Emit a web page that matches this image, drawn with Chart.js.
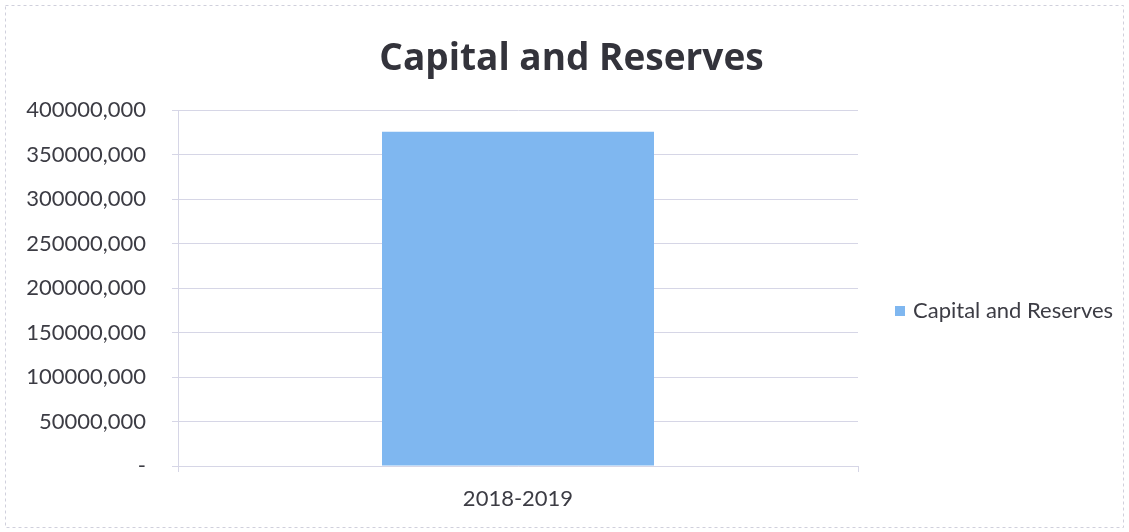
<!DOCTYPE html>
<html>
<head>
<meta charset="utf-8">
<title>Capital and Reserves</title>
<script src="https://cdn.jsdelivr.net/npm/chart.js@4.4.1/dist/chart.umd.min.js"></script>
<style>
  html, body { margin: 0; padding: 0; background: #fff; }
  #wrap { width: 1129px; height: 532px; }
</style>
</head>
<body>
<div id="wrap"><canvas id="barchart" width="1129" height="532"></canvas></div>
<script>
var categories = ['2018-2019']
var seriesLabel = 'Capital and Reserves'
var capitalValues = [376000000]
var yMax = 400000000
var yStep = 50000000

var barColor = '#7fb7f0'
var gridColor = '#d6d6e6'
var textColor = '#3c3c44'

function tickLabel(v) {
  if (v === 0) return '-'
  return Math.floor(v / 1000) + ',' + String(v % 1000).padStart(3, '0')
}

// legend drawn beside the plot, plus the faint frame of the chart
var sideLegend = {
  id: 'sideLegend',
  beforeDraw(chart) {
    var ctx = chart.ctx
    ctx.save()
    ctx.strokeStyle = '#d0d0dc'
    ctx.setLineDash([3, 3])
    ctx.lineWidth = 1
    ctx.strokeRect(5.5, 5.5, 1118, 522)
    ctx.restore()
  },
  afterDraw(chart) {
    var ctx = chart.ctx
    var ds = chart.data.datasets[0]
    var y = 311
    ctx.save()
    ctx.fillStyle = ds.backgroundColor
    ctx.fillRect(895, y - 5, 10, 10)
    ctx.fillStyle = textColor
    ctx.font = '22px Lato'
    ctx.textBaseline = 'middle'
    ctx.textAlign = 'left'
    ctx.fillText(ds.label, 913, y)
    ctx.restore()
  }
}

new Chart('barchart', {
  type: 'bar',
  data: {
    labels: categories,
    datasets: [{
      label: seriesLabel,
      data: capitalValues,
      backgroundColor: barColor,
      borderWidth: 0,
      categoryPercentage: 1,
      barPercentage: 0.4
    }]
  },
  options: {
    responsive: false,
    animation: false,
    layout: { padding: { left: 14, right: 0, top: 0, bottom: 24 } },
    plugins: {
      legend: { display: false },
      tooltip: { enabled: false },
      title: {
        display: true,
        text: 'Capital and Reserves',
        color: '#33333b',
        font: { family: 'Open Sans', size: 37, weight: 'bold', lineHeight: 1.2 },
        padding: { top: 37, bottom: 29 }
      }
    },
    scales: {
      x: {
        grid: { drawOnChartArea: false, color: gridColor, tickLength: 6 },
        border: { color: gridColor },
        ticks: { color: textColor, font: { family: 'Lato', size: 22 }, padding: 14 },
        afterFit: function (scale) { scale.height = 42 }
      },
      y: {
        min: 0,
        max: yMax,
        grid: { color: gridColor, tickLength: 6 },
        border: { color: gridColor },
        ticks: {
          stepSize: yStep,
          color: textColor,
          font: { family: 'Lato', size: 22 },
          padding: 26,
          callback: function (v) { return tickLabel(v) }
        },
        afterFit: function (scale) { scale.width = 164 }
      },
      // empty box on the right that holds the space for the legend
      side: {
        type: 'linear',
        position: 'right',
        grid: { display: false },
        border: { display: false },
        ticks: { display: false },
        afterFit: function (scale) { scale.width = 271 }
      }
    }
  },
  plugins: [sideLegend]
})
</script>
</body>
</html>
